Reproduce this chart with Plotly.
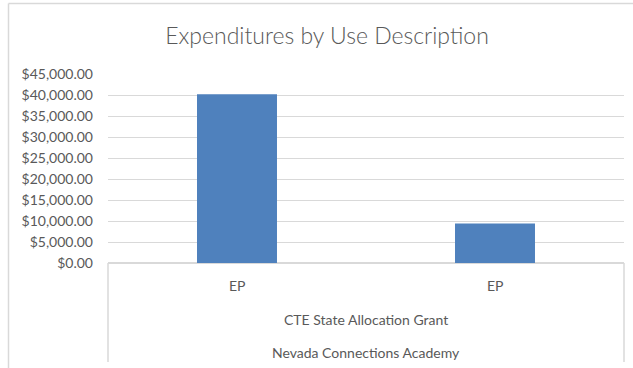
import plotly.graph_objects as go

# Expenditure data (two EP lines under the same grant / school)
categories = ["EP", "EP"]
grant = "CTE State Allocation Grant"
school = "Nevada Connections Academy"
amounts = [40150, 9400]
y_ticks = [0, 5000, 10000, 15000, 20000, 25000, 30000, 35000, 40000, 45000]

W, H = 633, 368
L, R, T, B = 108, 9, 74, 105
plot_w = W - L - R
plot_h = H - T - B


def px(x):
    return (x - L) / plot_w


def py(y):
    return (H - B - y) / plot_h


TEXT = "#595959"
GRID = "#d9d9d9"
FONT = "Lato"

positions = list(range(len(categories)))

fig = go.Figure(
    go.Bar(
        x=positions,
        y=amounts,
        marker=dict(color="#4F81BD", line=dict(width=0)),
        hovertemplate="%{y:$,.2f}<extra></extra>",
    )
)

annotations = []
for pos, label in zip(positions, categories):
    annotations.append(dict(
        x=pos, xref="x", y=py(285), yref="paper", text=label, showarrow=False,
        xanchor="center", yanchor="middle", font=dict(family=FONT, size=14, color=TEXT),
    ))
annotations.append(dict(
    x=0.5, xref="paper", y=py(319), yref="paper", text=grant, showarrow=False,
    xanchor="center", yanchor="middle", font=dict(family=FONT, size=14, color=TEXT),
))
annotations.append(dict(
    x=0.5, xref="paper", y=py(352), yref="paper", text=school, showarrow=False,
    xanchor="center", yanchor="middle", font=dict(family=FONT, size=14, color=TEXT),
))

line_style = dict(color=GRID, width=1.5)
shapes = [
    # chart frame (top and left edges)
    dict(type="line", xref="paper", yref="paper", x0=px(8.5), x1=px(640), y0=py(3.5), y1=py(3.5), line=line_style),
    dict(type="line", xref="paper", yref="paper", x0=px(8.5), x1=px(8.5), y0=py(3.5), y1=py(372), line=line_style),
    # category-axis box sides
    dict(type="line", xref="paper", yref="paper", x0=0, x1=0, y0=0, y1=py(362), line=line_style),
    dict(type="line", xref="paper", yref="paper", x0=1, x1=1, y0=0, y1=py(362), line=line_style),
]

fig.update_layout(
    width=W, height=H,
    margin=dict(l=L, r=R, t=T, b=B),
    paper_bgcolor="white", plot_bgcolor="white",
    title=dict(
        text="Expenditures by Use Description",
        x=px(327), xref="paper", xanchor="center",
        y=1 - 36 / H, yref="container", yanchor="middle",
        font=dict(family=FONT, size=23, color=TEXT, weight=300),
    ),
    bargap=0.69,
    showlegend=False,
    annotations=annotations,
    shapes=shapes,
    font=dict(family=FONT, color=TEXT),
)

fig.update_xaxes(
    range=[-0.5, len(categories) - 0.5],
    showticklabels=False, showgrid=False, zeroline=False, showline=False, ticks="",
    fixedrange=True,
)
fig.update_yaxes(
    range=[0, 45000],
    tickvals=y_ticks,
    tickformat="$,.2f",
    showgrid=True, gridcolor=GRID, gridwidth=1,
    zeroline=True, zerolinecolor=GRID, zerolinewidth=1.5,
    showline=False, ticks="",
    ticklabelstandoff=14,
    tickfont=dict(family=FONT, size=14, color=TEXT),
    fixedrange=True,
)

fig.write_html("out.html")
